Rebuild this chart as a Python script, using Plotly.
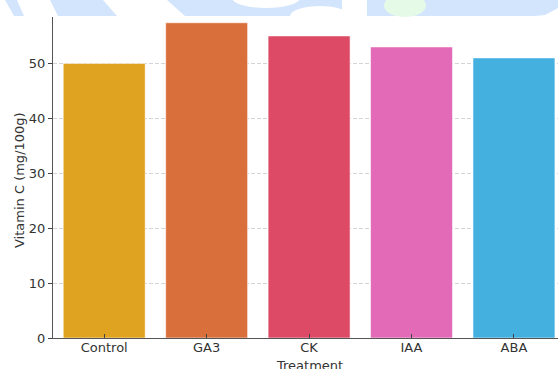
import plotly.graph_objects as go

categories = ["Control", "GA3", "CK", "IAA", "ABA"]
vitamin_c = [50.0, 57.4, 55.0, 53.0, 51.0]
bar_colors = ["#DFA321", "#D9703B", "#DC4A66", "#E36AB7", "#43B0E0"]
y_ticks = [0, 10, 20, 30, 40, 50]

W, H = 558, 369
L, R, T, B = 53, 0, 17, 31
PW, PH = W - L - R, H - T - B


def px(x):
    return (x - L) / PW


def py(y):
    return (H - B - y) / PH


fig = go.Figure()
fig.add_trace(go.Bar(
    x=list(range(len(categories))),
    y=vitamin_c,
    width=0.8,
    marker=dict(color=bar_colors, line=dict(color="rgba(255,255,255,0.55)", width=1)),
    hoverinfo="y",
))

FONT = "DejaVu Sans"
TXT = "#333333"

# decorative watermark band at the top of the image
blue = "#D3E5FC"
white = "#FFFFFF"
shapes = []
shapes.append(dict(type="rect", xref="paper", yref="paper", x0=px(0), x1=px(558), y0=py(16), y1=py(0),
                   fillcolor=blue, line=dict(width=0), layer="above"))


def poly(pts, color):
    d = "M " + " L ".join(f"{px(a)},{py(b)}" for a, b in pts) + " Z"
    return dict(type="path", xref="paper", yref="paper", path=d, fillcolor=color,
                line=dict(width=0), layer="above")


shapes.append(poly([(0, 0), (5, 0), (14, 16), (0, 16)], white))
shapes.append(poly([(17, 0), (50, 0), (58, 16), (24, 16)], white))
shapes.append(poly([(103, 0), (167, 0), (185, 16), (117, 16)], white))
shapes.append(dict(type="circle", xref="paper", yref="paper", x0=px(232), x1=px(300), y0=py(8), y1=py(-12),
                   fillcolor=white, line=dict(width=0), layer="above"))
shapes.append(dict(type="circle", xref="paper", yref="paper", x0=px(290), x1=px(350), y0=py(26), y1=py(6),
                   fillcolor=white, line=dict(width=0), layer="above"))
shapes.append(poly([(342, 0), (367, 0), (367, 16), (342, 16)], white))
shapes.append(dict(type="circle", xref="paper", yref="paper", x0=px(384), x1=px(426), y0=py(17), y1=py(-6),
                   fillcolor="#E5FBE8", line=dict(width=0), layer="above"))
shapes.append(poly([(530, 16.5), (545, 15), (558, 8), (558, 16.5)], white))

fig.update_layout(
    width=W, height=H,
    margin=dict(l=L, r=R, t=T, b=B, autoexpand=False),
    paper_bgcolor="white",
    plot_bgcolor="white",
    showlegend=False,
    font=dict(family=FONT, size=13, color=TXT),
    shapes=shapes,
    bargap=0.2,
    annotations=[
        dict(text="Treatment", xref="paper", yref="paper", x=px(309), y=py(356),
             xanchor="center", yanchor="top", showarrow=False,
             font=dict(family=FONT, size=13, color=TXT)),
        dict(text="Vitamin C (mg/100g)", xref="paper", yref="paper", x=px(20), y=py(180),
             xanchor="center", yanchor="middle", textangle=-90, showarrow=False,
             font=dict(family=FONT, size=13, color=TXT)),
    ],
)

fig.update_xaxes(
    range=[-0.5, 4.43],
    tickmode="array",
    tickvals=list(range(len(categories))),
    ticktext=categories,
    ticks="inside", ticklen=4, tickcolor="#444444", tickwidth=1,
    ticklabelstandoff=-3,
    showline=True, linecolor="#555555", linewidth=1.3,
    showgrid=False, zeroline=False,
    tickfont=dict(family=FONT, size=13, color=TXT),
    automargin=False,
)
fig.update_yaxes(
    range=[0, 58.45],
    tickmode="array",
    tickvals=y_ticks,
    ticks="outside", ticklen=4, tickcolor="#444444", tickwidth=1,
    showline=True, linecolor="#555555", linewidth=1.3,
    showgrid=True, gridcolor="#D4D4D4", gridwidth=0.8, griddash="4px,2px",
    zeroline=False,
    tickfont=dict(family=FONT, size=13, color=TXT),
    automargin=False,
)

fig.write_html("out.html")
